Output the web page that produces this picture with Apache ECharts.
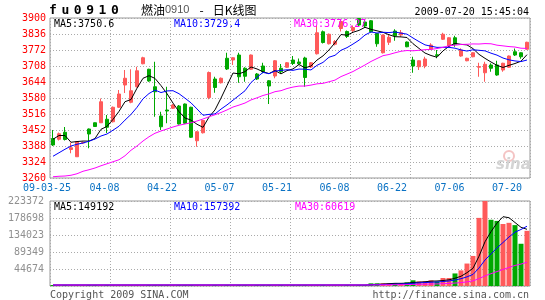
<!DOCTYPE html>
<html><head><meta charset="utf-8">
<script src="https://cdn.jsdelivr.net/npm/echarts@6/dist/echarts.min.js"></script>
<style>html,body{margin:0;padding:0;background:#fff}#c{width:545px;height:300px}</style>
</head><body><div id="c"></div>
<script>
const dates = ['2009-03-25','2009-03-26','2009-03-27','2009-03-30','2009-03-31','2009-04-01','2009-04-02','2009-04-03','2009-04-07','2009-04-08',
'2009-04-09','2009-04-10','2009-04-13','2009-04-14','2009-04-15','2009-04-16','2009-04-17','2009-04-20','2009-04-21','2009-04-22',
'2009-04-23','2009-04-24','2009-04-27','2009-04-28','2009-04-29','2009-04-30','2009-05-04','2009-05-05','2009-05-06','2009-05-07',
'2009-05-08','2009-05-11','2009-05-12','2009-05-13','2009-05-14','2009-05-15','2009-05-18','2009-05-19','2009-05-20','2009-05-21',
'2009-05-22','2009-05-25','2009-05-26','2009-05-27','2009-06-01','2009-06-02','2009-06-03','2009-06-04','2009-06-05','2009-06-08',
'2009-06-09','2009-06-10','2009-06-11','2009-06-12','2009-06-15','2009-06-16','2009-06-17','2009-06-18','2009-06-19','2009-06-22',
'2009-06-23','2009-06-24','2009-06-25','2009-06-26','2009-06-29','2009-06-30','2009-07-01','2009-07-02','2009-07-03','2009-07-06',
'2009-07-07','2009-07-08','2009-07-09','2009-07-10','2009-07-13','2009-07-14','2009-07-15','2009-07-16','2009-07-17','2009-07-20'];

const opens  = [3418,3415,3443,3374,3345,3400,3456,3481,3481,3495, 3485,3543,3632,3563,3625,3717,3695,3625,3508,3532,
                3539,3548,3556,3543,3409,3441,3582,3656,3641,3739, 3732,3752,3699,3695,3676,3708,3649,3668,3699,3703,
                3732,3724,3740,3704,3757,3845,3797,3795,3858,3846, 3850,3898,3884,3889,3838,3761,3803,3848,3832,3804,
                3732,3705,3708,3775,3753,3815,3788,3821,3748,3729, 3745,3703,3681,3712,3712,3692,3703,3765,3761,3775];
const closes = [3392,3437,3414,3381,3405,3402,3436,3466,3565,3463, 3543,3596,3659,3609,3689,3741,3648,3605,3465,3528,
                3552,3476,3479,3423,3445,3490,3682,3622,3659,3696, 3741,3665,3667,3752,3656,3685,3628,3729,3685,3721,
                3718,3717,3662,3721,3841,3802,3835,3806,3886,3826, 3862,3872,3868,3845,3797,3832,3823,3829,3841,3785,
                3708,3729,3736,3792,3750,3835,3821,3795,3772,3739, 3761,3706,3715,3699,3672,3719,3748,3752,3745,3803];
const lows   = [3388,3410,3410,3359,3344,3396,3379,3464,3480,3440, 3482,3540,3600,3559,3622,3715,3645,3505,3452,3479,
                3536,3474,3476,3420,3385,3438,3575,3601,3638,3692, 3712,3641,3645,3692,3652,3679,3556,3659,3679,3700,
                3712,3713,3625,3700,3754,3798,3794,3790,3846,3820, 3842,3866,3862,3842,3785,3758,3792,3809,3825,3783,
                3681,3692,3699,3772,3739,3812,3786,3785,3745,3727, 3743,3665,3645,3685,3669,3685,3700,3748,3737,3773];
const highs  = [3452,3442,3464,3402,3408,3406,3458,3482,3578,3512, 3546,3612,3692,3695,3705,3745,3697,3725,3525,3625,
                3556,3552,3558,3545,3448,3492,3686,3665,3662,3761, 3743,3761,3703,3754,3680,3721,3652,3732,3716,3724,
                3748,3738,3745,3724,3871,3850,3838,3812,3896,3850, 3870,3900,3892,3892,3840,3834,3832,3855,3852,3806,
                3745,3731,3745,3799,3772,3841,3823,3829,3779,3741, 3763,3721,3725,3719,3729,3721,3750,3778,3763,3805];
const volumes = [2600,2600,2600,2600,2600,2600,2600,2600,2600,2600, 2600,2600,2600,2600,2600,2600,2600,2600,2600,2600,
                 2600,2600,2600,2600,2600,2600,2600,2600,2600,2600, 2600,2600,2600,2600,2600,2600,2600,2600,2600,2600,
                 2600,2600,2600,2600,2600,2600,2600,2600,2600,2600, 2500,2500,2500,7000,7000,7000,7000,7000,7000,9500,
                 15000,12000,12000,15000,12000,21000,21000,33000,41000,59000, 79000,179000,223372,174000,171000,163000,166000,160000,111000,145000];

// moving-average values read from the picture where earlier data is not shown
const ma5Head  = [3415,3430,3430,3403];
const ma10Head = [3347,3361,3375,3388,3395,3400,3407,3416,3428];
const ma30Head = [3265,3267,3268,3271,3277,3287,3293,3300,3309,3317,3325,3333,3349,3371,3388,3408,3425,3439,3448,3456,
                  3464,3471,3476,3481,3488,3496,3505,3513,3522];
const vma5Head  = [2600,2600,2600,2600];
const vma10Head = [2600,2600,2600,2600,2600,2600,2600,2600,2600];
const vma30Head = [2600,2600,2600,2600,2600,2600,2600,2600,2600,2600,2600,2600,2600,2600,2600,2600,2600,2600,2600,2600,
                   2600,2600,2600,2600,2600,2600,2600,2600,2600];

const xTickLabels = ['09-03-25','04-08','04-22','05-07','05-21','06-08','06-22','07-06','07-20'];
const yTickLabels = ['3260','3324','3388','3452','3516','3580','3644','3708','3772','3836','3900'];
const volMax = 223372;
const mainLegend = ['MA5:3750.6','MA10:3729.4','MA30:3776.27'];
const volLegend = ['MA5:149192','MA10:157392','MA30:60619'];

const RED = '#ff5a5a', GREEN = '#00a800';
const MONO = 'DejaVu Sans Mono';

function movingAvg(vals, n, head) {
  return vals.map((v, i) => {
    if (i < n - 1) return head[i];
    let s = 0; for (let k = i - n + 1; k <= i; k++) s += vals[k];
    return +(s / n).toFixed(2);
  });
}

const candles = dates.map((d, i) => [opens[i], closes[i], lows[i], highs[i]]);
const volBars = volumes.map((v, i) => ({value: v, itemStyle: {color: closes[i] >= opens[i] ? RED : GREEN}}));

const dotted = {show: true, lineStyle: {color: '#aaa', type: [1, 2], width: 1}};
const vSplit = {show: true, interval: (idx) => idx % 10 === 0, lineStyle: {color: '#aaa', type: [1, 2], width: 1}};

const chart = echarts.init(document.getElementById('c'), null, {renderer: 'canvas'});
const lineS = (name, data, color, xi, yi) => ({
  name, type: 'line', data, xAxisIndex: xi, yAxisIndex: yi, showSymbol: false, symbol: 'none',
  lineStyle: {color, width: 1}, silent: true, z: 5
});
const txt = (x, y, text, fill, align) => ({type: 'text', x, y, z: 10, style: {
  text, font: '10px "DejaVu Sans Mono"', fill, textAlign: align || 'left', align: align || 'left',
  textVerticalAlign: 'middle', verticalAlign: 'middle'}});

chart.setOption({
  animation: false,
  backgroundColor: '#fff',
  grid: [
    {left: 50, top: 18, width: 480, height: 160, show: true, borderColor: '#999', borderWidth: 1},
    {left: 50, top: 201, width: 480, height: 85, show: true, borderColor: '#999', borderWidth: 1},
    {left: 47, top: 177, width: 460, height: 1, show: false}
  ],
  xAxis: [
    {type: 'category', gridIndex: 0, data: dates, boundaryGap: true, axisLine: {show: false}, axisTick: {show: false}, axisLabel: {show: false}, splitLine: vSplit},
    {type: 'category', gridIndex: 1, data: dates, boundaryGap: true, axisLine: {show: false}, axisTick: {show: false}, axisLabel: {show: false}, splitLine: vSplit},
    {type: 'category', gridIndex: 2, data: xTickLabels, boundaryGap: false, axisLine: {show: false}, axisTick: {show: false},
     axisLabel: {show: true, interval: 0, color: '#0a72c4', fontFamily: MONO, fontSize: 10, margin: 5}, splitLine: {show: false}}
  ],
  yAxis: [
    {type: 'value', gridIndex: 0, min: 3260, max: 3900, show: false, splitLine: {show: false}},
    {type: 'category', gridIndex: 0, position: 'left', data: yTickLabels, boundaryGap: false, axisLine: {show: false}, axisTick: {show: false},
     axisLabel: {color: '#ff0000', fontFamily: MONO, fontSize: 10, margin: 4, interval: 0}, splitLine: dotted},
    {type: 'value', gridIndex: 1, min: 0, max: volMax, interval: volMax / 5, axisLine: {show: false}, axisTick: {show: false},
     axisLabel: {color: '#909090', fontFamily: MONO, fontSize: 10, margin: 6, formatter: v => v === 0 ? '' : String(Math.round(v))},
     splitLine: dotted},
    {type: 'value', gridIndex: 2, show: false, splitLine: {show: false}}
  ],
  series: [
    {type: 'candlestick', data: candles, xAxisIndex: 0, yAxisIndex: 0, barWidth: 4, silent: true,
     itemStyle: {color: RED, color0: GREEN, borderColor: RED, borderColor0: GREEN, borderWidth: 1}},
    lineS('MA5', movingAvg(closes, 5, ma5Head), '#000000', 0, 0),
    lineS('MA10', movingAvg(closes, 10, ma10Head), '#0000ff', 0, 0),
    lineS('MA30', movingAvg(closes, 30, ma30Head), '#ff00ff', 0, 0),
    {type: 'bar', data: volBars, xAxisIndex: 1, yAxisIndex: 2, barWidth: 5, silent: true},
    lineS('VMA5', movingAvg(volumes, 5, vma5Head), '#000000', 1, 2),
    lineS('VMA10', movingAvg(volumes, 10, vma10Head), '#0000ff', 1, 2),
    lineS('VMA30', movingAvg(volumes, 30, vma30Head), '#ff00ff', 1, 2)
  ],
  graphic: [
    {type: 'text', x: 49, y: 11, z: 10, style: {
      text: '{c|f}{c|u}{c|0}{c|9}{c|1}{c|0}', textVerticalAlign: 'middle', verticalAlign: 'middle',
      rich: {c: {width: 12.4, fontSize: 13, fontWeight: 'bold', fontFamily: MONO, fill: '#000', color: '#000'}}}},
    {type: 'text', x: 141, y: 10, z: 10, style: {
      text: '{a|燃油}{b|0910}{g| }{a|-}{h| }{a|日K线图}', textVerticalAlign: 'middle', verticalAlign: 'middle',
      rich: {a: {fontSize: 12, fontFamily: 'Noto Sans CJK SC', fill: '#000', color: '#000'},
             b: {fontSize: 11, fontFamily: 'Liberation Sans', fill: '#555', color: '#555'},
             g: {width: 10, fontSize: 12}, h: {width: 9, fontSize: 12}}}},
    txt(529, 12, '2009-07-20 15:45:04', '#000', 'right'),
    txt(54, 24, mainLegend[0], '#000'),
    txt(174, 24, mainLegend[1], '#0000ff'),
    txt(294, 24, mainLegend[2], '#ff00ff'),
    txt(54, 207, volLegend[0], '#000'),
    txt(174, 207, volLegend[1], '#0000ff'),
    txt(295, 207, volLegend[2], '#ff00ff'),
    txt(50, 295, 'Copyright 2009 SINA.COM', '#555'),
    txt(529, 295, 'http://finance.sina.com.cn', '#555', 'right'),
    {type: 'circle', z: 1, shape: {cx: 509, cy: 156, r: 5}, style: {fill: 'none', stroke: '#f4c4c4', lineWidth: 2}},
    {type: 'text', x: 496, y: 165, z: 1, style: {text: 'sina', font: 'italic bold 15px "DejaVu Sans"', fill: '#d4d4d4',
      textVerticalAlign: 'middle', verticalAlign: 'middle'}}
  ]
});
</script></body></html>
